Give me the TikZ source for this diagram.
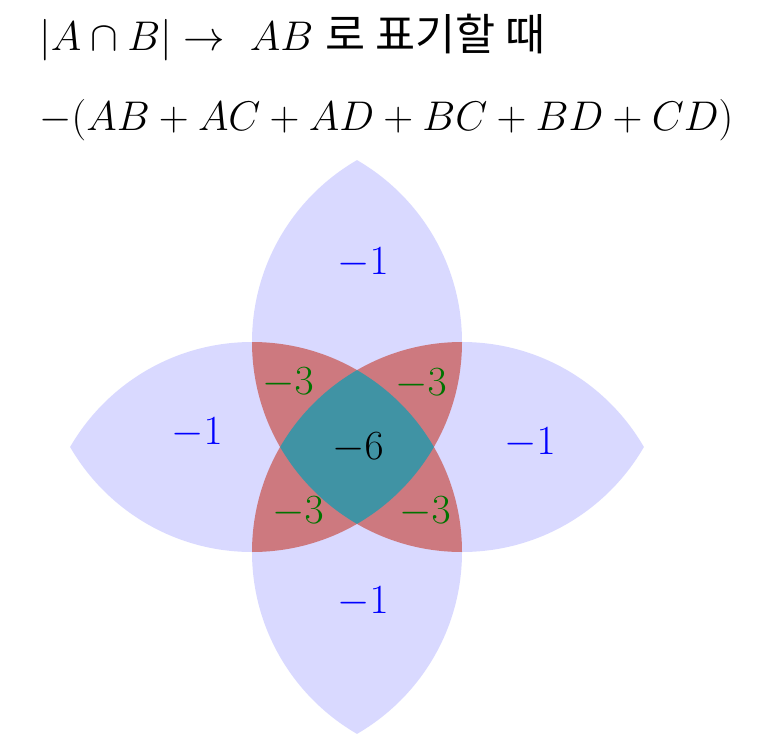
\documentclass[tikz,border=0pt]{standalone}
\usepackage{amsmath}
\usepackage{fontspec}
\newfontfamily\krfont[Scale=1.05]{Noto Sans CJK KR}
\usetikzlibrary{positioning}
\definecolor{lensblue}{RGB}{217,217,255}
\definecolor{pairred}{RGB}{205,121,127}
\definecolor{coreteal}{RGB}{64,147,164}

\begin{document}
\begin{tikzpicture} [every node/.style={font=\huge, inner sep=0pt},
	single/.style={text=blue},
	double/.style={text=green!45!black},
	title/.style={anchor=base west}]
	
	\useasboundingbox (-178.5pt,-151pt) rectangle (203pt,223.5pt);
	
	% circle centres, radius = side of the square
	\coordinate (tl) at (-52.5pt,52.5pt);
	\coordinate (tr) at (52.5pt,52.5pt);
	\coordinate (bl) at (-52.5pt,-52.5pt);
	\coordinate (br) at (52.5pt,-52.5pt);
	\def\rad{105pt}
	
	% petals
	\foreach \a/\b in {tl/tr, tl/bl, tr/br, bl/br}{
		\begin{scope}
			\clip (\a) circle[radius=\rad];
			\fill[lensblue] (\b) circle[radius=\rad];
		\end{scope}
	}
	% two petals overlap
	\foreach \a/\b/\c in {tl/tr/bl, tr/tl/br, bl/tl/br, br/tr/bl}{
		\begin{scope}
			\clip (\a) circle[radius=\rad];
			\clip (\b) circle[radius=\rad];
			\fill[pairred] (\c) circle[radius=\rad];
		\end{scope}
	}
	% all four
	\begin{scope}
		\clip (tl) circle[radius=\rad];
		\clip (tr) circle[radius=\rad];
		\clip (bl) circle[radius=\rad];
		\fill[coreteal] (br) circle[radius=\rad];
	\end{scope}
	
	\node[title] (line1) at (-159pt,198pt) {$|A\cap B| \rightarrow$ \ $AB$ {\krfont 로 표기할 때}};
	\node[title] (line2) at (-159pt,158pt) {$-(AB+AC+AD+BC+BD+CD)$};
	
	\node[single] (petalT) at (3pt,92pt) {$-1$};
	\node[single] (petalL) at (-80pt,7pt) {$-1$};
	\node[single] (petalR) at (86.5pt,2pt) {$-1$};
	\node[single] (petalB) at (3pt,-77.5pt) {$-1$};
	
	\node[double] (pairTL) at (-34.5pt,32pt) {$-3$};
	\node[double] (pairTR) at (32pt,31.5pt) {$-3$};
	\node[double] (pairBL) at (-29.5pt,-32.5pt) {$-3$};
	\node[double] (pairBR) at (34pt,-32.5pt) {$-3$};
	
	\node (core) at (0.5pt,-0.5pt) {$-6$};
	
\end{tikzpicture}
\end{document}
